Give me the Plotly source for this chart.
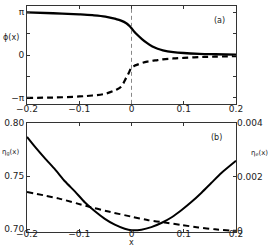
import plotly.graph_objects as go
import math

# ---- data ----
x_top = [-0.2, -0.15, -0.1, -0.075, -0.05, -0.03, -0.02, -0.01, -0.005, 0.0,
         0.005, 0.01, 0.02, 0.03, 0.04, 0.05, 0.06, 0.08, 0.1, 0.13, 0.16, 0.2]
phi_solid = [3.12, 3.06, 2.98, 2.92, 2.82, 2.64, 2.52, 2.33, 2.17, 1.97,
             1.72, 1.52, 1.17, 0.87, 0.62, 0.46, 0.35, 0.22, 0.15, 0.09, 0.06, 0.03]
phi_dashed = [-3.13, -3.11, -3.03, -2.96, -2.83, -2.55, -2.32, -1.65, -1.3, -0.9,
              -0.8, -0.72, -0.58, -0.48, -0.42, -0.37, -0.31, -0.25, -0.21, -0.15, -0.12, -0.08]

x_g = [-0.2, -0.185, -0.166, -0.146, -0.127, -0.108, -0.089, -0.07, -0.051, -0.032, -0.013, 0.0,
       0.019, 0.038, 0.058, 0.077, 0.096, 0.115, 0.134, 0.153, 0.172, 0.2]
eta_g = [0.787, 0.7778, 0.767, 0.7562, 0.745, 0.7355, 0.7253, 0.717, 0.7099, 0.7044, 0.7006, 0.6992,
         0.6997, 0.7021, 0.7062, 0.7114, 0.7182, 0.7259, 0.7345, 0.7438, 0.7530, 0.7645]
x_e = [-0.2, -0.14, -0.086, -0.044, 0.0, 0.032, 0.064, 0.096, 0.128, 0.16, 0.19, 0.2]
eta_e = [0.00144, 0.0012, 0.000915, 0.00071, 0.00052, 0.00039, 0.0003, 0.00021, 0.00012, 0.00005, 0.0, 0.0]

x_ticks = [-0.2, -0.1, 0, 0.1, 0.2]
x_ticklabels = ["\u22120.2", "\u22120.1", "0", "0.1", "0.2"]
phi_ticks = [-math.pi, -math.pi / 2, 0, math.pi / 2, math.pi]
phi_ticklabels = ["\u2212\u03c0", "", "0", "", "\u03c0"]
g_ticks = [0.70, 0.75, 0.80]
g_ticklabels = ["0.70", "0.75", "0.80"]
e_ticks = [0, 0.002, 0.004]
e_ticklabels = ["0", "0.002", "0.004"]

FONT = "DejaVu Sans"
AX = "#333333"
TXT = "#222222"

fig = go.Figure()
fig.add_trace(go.Scatter(x=x_top, y=phi_solid, mode="lines", line=dict(color="black", width=2.3, shape="spline"),
                         xaxis="x", yaxis="y", showlegend=False))
fig.add_trace(go.Scatter(x=x_top, y=phi_dashed, mode="lines", line=dict(color="black", width=2.2, dash="6px,4px", shape="spline"),
                         xaxis="x", yaxis="y", showlegend=False))
fig.add_trace(go.Scatter(x=x_g, y=eta_g, mode="lines", line=dict(color="black", width=2, shape="spline", smoothing=0.6),
                         xaxis="x2", yaxis="y2", showlegend=False))
fig.add_trace(go.Scatter(x=x_e, y=eta_e, mode="lines", line=dict(color="black", width=2, dash="6px,4px", shape="spline", smoothing=0.6),
                         xaxis="x2", yaxis="y3", showlegend=False))
# invisible carriers so the label-only x axes are drawn
fig.add_trace(go.Scatter(x=x_top, y=phi_solid, mode="lines", opacity=0, hoverinfo="skip",
                         xaxis="x3", yaxis="y", showlegend=False))
fig.add_trace(go.Scatter(x=x_g, y=eta_g, mode="lines", opacity=0, hoverinfo="skip",
                         xaxis="x4", yaxis="y2", showlegend=False))

tickline_x = dict(range=[-0.2, 0.2], tickvals=x_ticks, ticks="inside", ticklen=3, showticklabels=False,
                  tickcolor=AX, showline=True, linecolor=AX, linewidth=1, mirror="ticks", showgrid=False,
                  zeroline=False)
label_x = dict(range=[-0.2, 0.2], tickvals=x_ticks, ticktext=x_ticklabels, ticks="", showline=False,
               showgrid=False, zeroline=False, anchor="free", tickfont=dict(family=FONT, size=9, color=TXT))

fig.update_layout(
    width=269, height=246,
    margin=dict(l=27, r=33, t=1, b=14),
    paper_bgcolor="white", plot_bgcolor="white",
    xaxis=dict(domain=[0, 1], anchor="y", **tickline_x),
    xaxis3=dict(overlaying="x", position=0.5758, **label_x),
    yaxis=dict(domain=[0.5671, 1.0], anchor="x", range=[-3.57, 3.59], tickvals=phi_ticks, ticktext=phi_ticklabels,
               ticks="inside", ticklen=3, tickcolor=AX, showline=True, linecolor=AX, linewidth=1, mirror="ticks",
               showgrid=False, zeroline=False, tickfont=dict(family=FONT, size=9, color=TXT)),
    xaxis2=dict(domain=[0, 1], anchor="y2", **tickline_x),
    xaxis4=dict(overlaying="x2", position=0.0216, **label_x),
    yaxis2=dict(domain=[0.0, 0.4818], anchor="x2", range=[0.6975, 0.8], tickvals=g_ticks, ticktext=g_ticklabels,
                ticks="inside", ticklen=3, tickcolor=AX, showline=True, linecolor=AX, linewidth=1, mirror=True,
                showgrid=False, zeroline=False, tickfont=dict(family=FONT, size=9, color=TXT)),
    yaxis3=dict(overlaying="y2", side="right", anchor="x2", range=[-0.00005, 0.004], tickvals=e_ticks,
                ticktext=e_ticklabels, ticks="inside", ticklen=3, tickcolor=AX, showline=False,
                showgrid=False, zeroline=False, tickfont=dict(family=FONT, size=9, color=TXT)),
    shapes=[dict(type="line", xref="x", yref="y domain", x0=0, x1=0, y0=0, y1=1,
                 line=dict(color="#888888", width=1, dash="4px,3px"))],
    annotations=[
        dict(text="\u03d5(x)", xref="paper", yref="paper", x=-0.125, y=0.8615, showarrow=False,
             xanchor="left", yanchor="middle", font=dict(family=FONT, size=8, color=TXT)),
        dict(text="(a)", xref="paper", yref="paper", x=0.919, y=0.935, showarrow=False,
             xanchor="center", yanchor="middle", font=dict(family=FONT, size=8, color=TXT)),
        dict(text="(b)", xref="paper", yref="paper", x=0.909, y=0.42, showarrow=False,
             xanchor="center", yanchor="middle", font=dict(family=FONT, size=8, color=TXT)),
        dict(text="\u03b7<sub>g</sub>(x)", xref="paper", yref="paper", x=-0.13, y=0.35, showarrow=False,
             xanchor="left", yanchor="middle", font=dict(family=FONT, size=7, color=TXT)),
        dict(text="\u03b7<sub>e</sub>(x)", xref="paper", yref="paper", x=1.06, y=0.35, showarrow=False,
             xanchor="left", yanchor="middle", font=dict(family=FONT, size=7, color=TXT)),
        dict(text="x", xref="paper", yref="paper", x=0.5, y=-0.046, showarrow=False,
             xanchor="center", yanchor="middle", font=dict(family=FONT, size=8, color=TXT)),
    ],
)

fig.write_html("out.html", config={"displayModeBar": False},
               post_script="document.body.style.margin='0';document.body.style.overflow='hidden';")
